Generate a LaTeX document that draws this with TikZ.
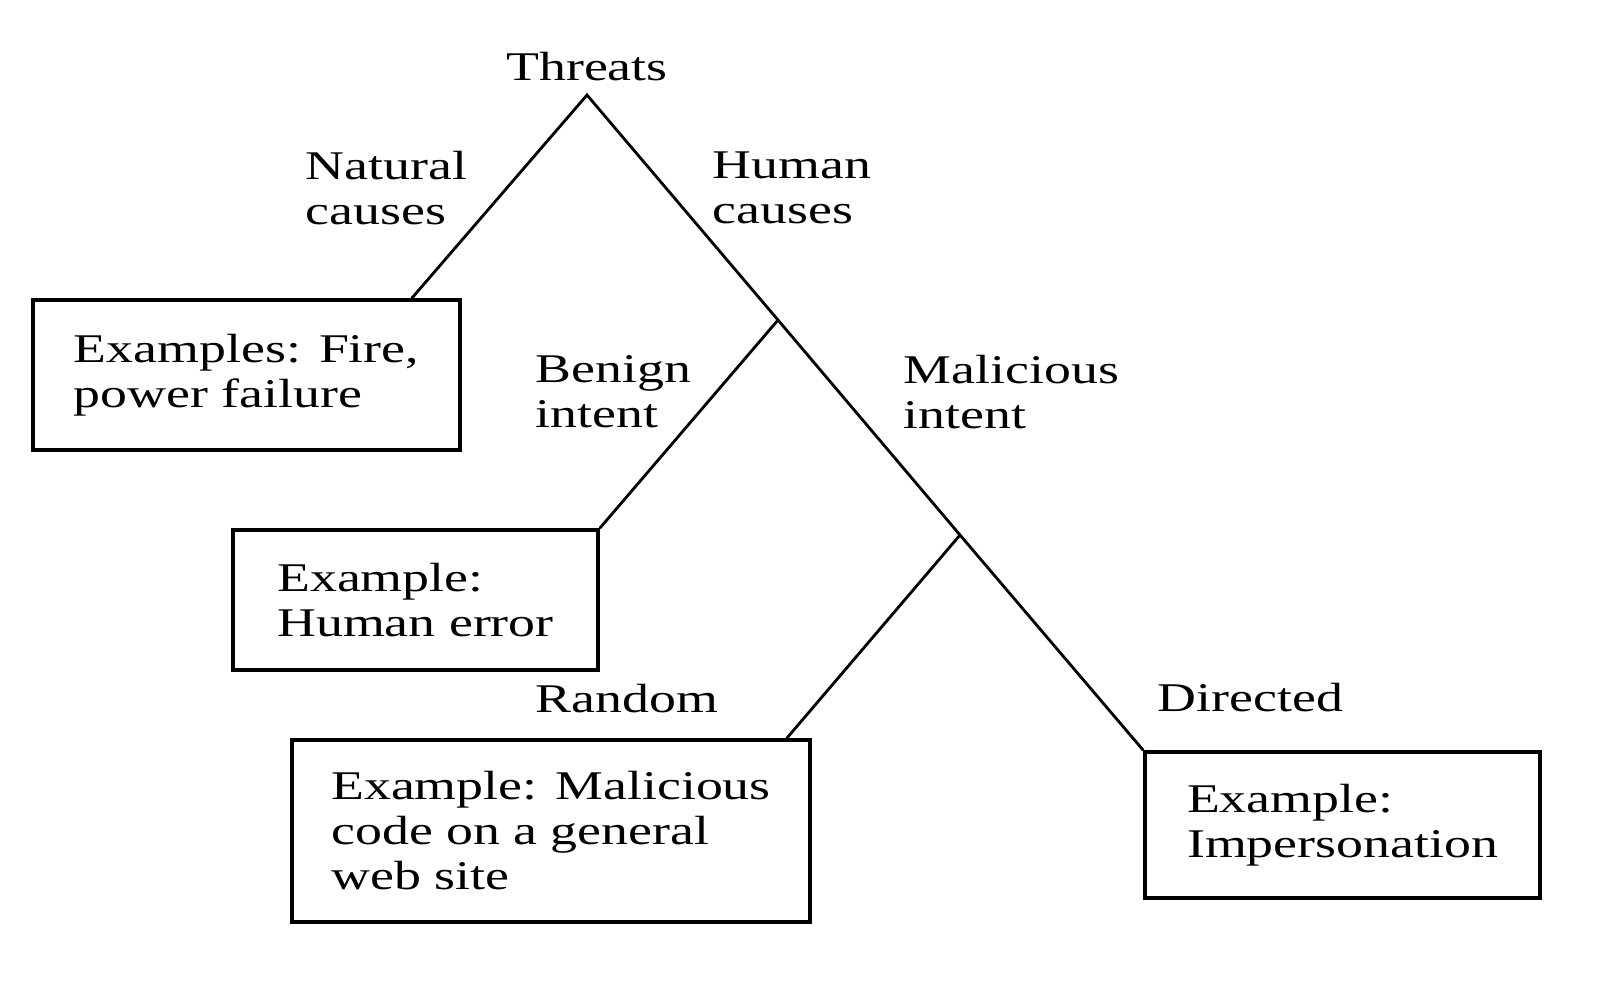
\documentclass[tikz,border=0pt]{standalone}
\usepackage{fontspec}
\setmainfont{Liberation Serif}[FakeStretch=1.32]
\tikzset{
  lbl/.style={inner sep=0pt, align=left, font=\fontsize{11.6}{12.8}\selectfont},
  box/.style={draw, line width=1pt, inner sep=0pt, align=left,
    font=\fontsize{11.6}{12.8}\selectfont}
}
\begin{document}
\begin{tikzpicture}
      \useasboundingbox (0,0) rectangle (16.14,-10.06);
      \node[lbl, anchor=base] (thr) at (5.87,-0.80) {Threats};
      \coordinate (apex) at (5.87,-0.95);
      \coordinate (j1) at (7.78,-3.20);
      \coordinate (j2) at (9.60,-5.35);
      \node[lbl, anchor=west] (nat) at (3.05,-1.88) {Natural\\causes};
      \node[lbl, anchor=west] (hum) at (7.12,-1.88) {Human\\causes};
      \node[lbl, anchor=west] (ben) at (5.35,-3.92) {Benign\\intent};
      \node[lbl, anchor=west] (mal) at (9.03,-3.92) {Malicious\\intent};
      \node[lbl, anchor=base west] (rnd) at (5.35,-7.12) {Random};
      \node[lbl, anchor=base west] (dir) at (11.57,-7.11) {Directed};
      \node[box, minimum width=4.27cm, minimum height=1.50cm] (fire) at (2.465,-3.75)
        {Examples: Fire,\\power failure};
      \node[box, minimum width=3.65cm, minimum height=1.40cm] (err) at (4.155,-6.00)
        {Example:\\Human error};
      \node[box, minimum width=5.18cm, minimum height=1.82cm] (code) at (5.51,-8.31)
        {Example: Malicious\\code on a general\\web site};
      \node[box, minimum width=3.95cm, minimum height=1.46cm] (imp) at (13.425,-8.25)
        {Example:\\Impersonation};
      \begin{scope}[line width=0.8pt]
        \draw ([xshift=-0.5cm]fire.north east) -- (apex) -- (j1) -- (j2) -- (imp.north west);
        \draw (j1) -- (err.north east);
        \draw (j2) -- ([xshift=-0.25cm]code.north east);
      \end{scope}
    \end{tikzpicture}
\end{document}
